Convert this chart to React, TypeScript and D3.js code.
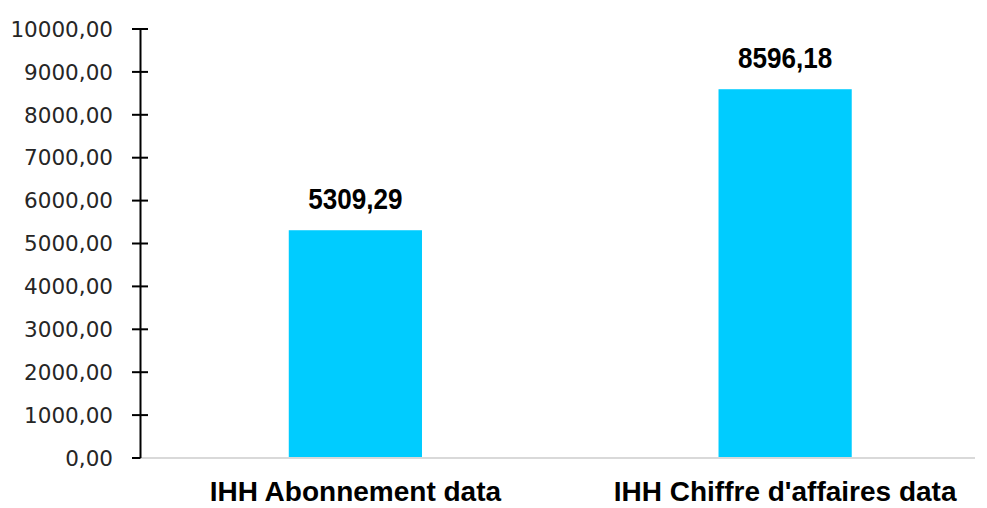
import React, { useEffect, useRef } from "react"
import * as d3 from "d3"

const categories = ["IHH Abonnement data", "IHH Chiffre d'affaires data"]
const values = [5309.29, 8596.18]
const yTicks = [0, 1000, 2000, 3000, 4000, 5000, 6000, 7000, 8000, 9000, 10000]

const fmt = (v: number) => v.toFixed(2).replace(".", ",")

const narrow = "'Liberation Sans Narrow', 'Arial Narrow', 'Liberation Sans', Arial, sans-serif"

export default function App() {
  const ref = useRef<SVGSVGElement>(null)

  useEffect(() => {
    const svg = d3.select(ref.current)
    svg.selectAll("*").remove()

    const width = 987
    const height = 508
    const axisX = 140.5
    const baseY = 458

    const y = d3.scaleLinear().domain([0, 10000]).range([baseY, 29])
    const x = d3.scaleBand()
      .domain(categories)
      .range([axisX, 1000])
      .paddingInner(0.69)
      .paddingOuter(0.345)

    svg.attr("width", width).attr("height", height)

    // bars
    svg.append("g").selectAll("rect").data(values).enter().append("rect")
      .attr("x", (d, i) => x(categories[i])!)
      .attr("y", d => y(d))
      .attr("width", x.bandwidth())
      .attr("height", d => baseY - y(d))
      .style("fill", "#00CCFF")

    // x axis line
    svg.append("line")
      .attr("x1", axisX).attr("x2", 975)
      .attr("y1", baseY).attr("y2", baseY)
      .style("stroke", "#d9d9d9").style("stroke-width", 2)

    // y axis
    const yAxis = svg.append("g")
    yAxis.append("line")
      .attr("x1", axisX).attr("x2", axisX)
      .attr("y1", y(10000)).attr("y2", baseY)
      .style("stroke", "#000").style("stroke-width", 2)
    yAxis.selectAll("line.tick").data(yTicks).enter().append("line")
      .attr("class", "tick")
      .attr("x1", 132)
      .attr("x2", d => d === 0 ? axisX : 148)
      .attr("y1", d => y(d)).attr("y2", d => y(d))
      .style("stroke", "#000").style("stroke-width", 2)
    yAxis.selectAll("text").data(yTicks).enter().append("text")
      .attr("x", 113)
      .attr("y", d => y(d))
      .attr("dy", "0.36em")
      .attr("text-anchor", "end")
      .style("font-family", "'DejaVu Sans', Verdana, sans-serif")
      .style("font-size", "21.5px")
      .style("fill", "#262626")
      .text(d => fmt(d))

    // value labels
    svg.append("g").selectAll("text").data(values).enter().append("text")
      .attr("transform", (d, i) =>
        `translate(${x(categories[i])! + x.bandwidth() / 2},${y(d) - 21}) scale(0.9,1)`)
      .attr("text-anchor", "middle")
      .style("font-family", narrow)
      .style("font-weight", "bold")
      .style("font-size", "29px")
      .style("fill", "#000")
      .text(d => fmt(d))

    // category labels
    svg.append("g").selectAll("text").data(categories).enter().append("text")
      .attr("x", d => x(d)! + x.bandwidth() / 2)
      .attr("y", 501)
      .attr("text-anchor", "middle")
      .style("font-family", narrow)
      .style("font-weight", "bold")
      .style("font-size", "28px")
      .style("fill", "#000")
      .text(d => d)
  }, [])

  return (
    <div style={{ position: "absolute", left: 0, top: 0 }}>
      <svg ref={ref} style={{ display: "block" }} />
    </div>
  )
}
